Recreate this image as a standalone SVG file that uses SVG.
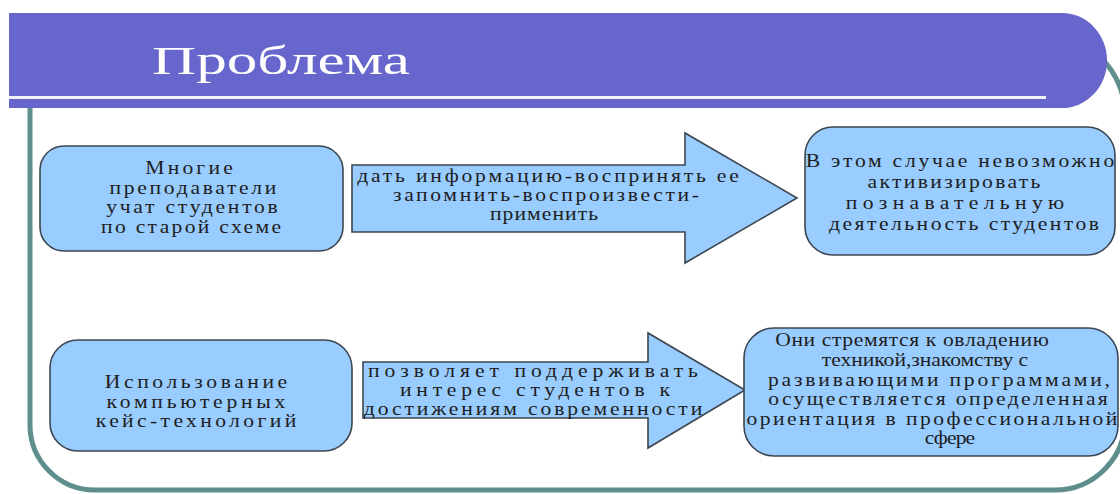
<svg xmlns="http://www.w3.org/2000/svg" width="1120" height="494" viewBox="0 0 1120 494">
  <style>
    .box { fill: #99CCFF; stroke: #3C4650; stroke-width: 1.6; }
    .t { font-family: "Liberation Serif", "DejaVu Serif", serif; font-size: 18px; fill: #1E1E1E; text-anchor: middle; }
    .frame { fill: none; stroke: #5E8F8C; stroke-width: 5; }
  </style>
  <rect x="0" y="0" width="1120" height="494" fill="#FFFFFF"/>
  <g id="frame">
    <path class="frame" d="M1045,35 A80,80 0 0 1 1125,115 V420 A70,70 0 0 1 1055,490 H95 A65,65 0 0 1 30,425 V105"/>
  </g>
  <g id="title">
    <path d="M9,13 H1062 A45,47.5 0 0 1 1062,108 H9 Z" fill="#6666CC"/>
    <rect x="9" y="96" width="1037" height="3" fill="#F2F2FF"/>
    <text x="152" y="74" font-family="Liberation Serif, serif" font-size="41" fill="#FFFFFF" textLength="258" lengthAdjust="spacingAndGlyphs">Проблема</text>
  </g>
  <g id="connectors">
    <g id="arrow1">
      <polygon class="box" points="352,165 685,165 685,133 797,198 685,263 685,232 352,232"/>
      <text class="t" transform="translate(548,182) scale(1.2,1)" textLength="318" lengthAdjust="spacing">дать информацию-воспринять ее</text>
      <text class="t" transform="translate(546,201) scale(1.2,1)" textLength="255" lengthAdjust="spacing">запомнить-воспроизвести-</text>
      <text class="t" transform="translate(544,220) scale(1.2,1)" textLength="90" lengthAdjust="spacing">применить</text>
    </g>
    <g id="arrow2">
      <polygon class="box" points="363,362 648,362 648,333 745,390 648,448 648,418 363,418"/>
      <text class="t" transform="translate(533,377) scale(1.2,1)" textLength="275" lengthAdjust="spacing">позволяет поддерживать</text>
      <text class="t" transform="translate(535,396) scale(1.2,1)" textLength="225" lengthAdjust="spacing">интерес студентов к</text>
      <text class="t" transform="translate(533,415) scale(1.2,1)" textLength="282" lengthAdjust="spacing">достижениям современности</text>
    </g>
  </g>
  <g id="node1">
    <rect class="box" x="40" y="146" width="303" height="105" rx="24"/>
    <text class="t" transform="translate(189,174) scale(1.2,1)" textLength="73" lengthAdjust="spacing">Многие</text>
    <text class="t" transform="translate(193,193.5) scale(1.2,1)" textLength="139" lengthAdjust="spacing">преподаватели</text>
    <text class="t" transform="translate(192,213) scale(1.2,1)" textLength="143" lengthAdjust="spacing">учат студентов</text>
    <text class="t" transform="translate(191,232.5) scale(1.2,1)" textLength="150" lengthAdjust="spacing">по старой схеме</text>
  </g>
  <g id="node2">
    <rect class="box" x="805" y="127" width="310" height="128" rx="28"/>
    <text class="t" transform="translate(960,167) scale(1.2,1)" textLength="257" lengthAdjust="spacing">В этом случае невозможно</text>
    <text class="t" transform="translate(954,188) scale(1.2,1)" textLength="144" lengthAdjust="spacing">активизировать</text>
    <text class="t" transform="translate(955,209) scale(1.2,1)" textLength="182" lengthAdjust="spacing">познавательную</text>
    <text class="t" transform="translate(964,230) scale(1.2,1)" textLength="225" lengthAdjust="spacing">деятельность студентов</text>
  </g>
  <g id="node3">
    <rect class="box" x="50" y="340" width="302" height="111" rx="28"/>
    <text class="t" transform="translate(196,388) scale(1.2,1)" textLength="152" lengthAdjust="spacing">Использование</text>
    <text class="t" transform="translate(196,407.5) scale(1.2,1)" textLength="149" lengthAdjust="spacing">компьютерных</text>
    <text class="t" transform="translate(196,427) scale(1.2,1)" textLength="167" lengthAdjust="spacing">кейс-технологий</text>
  </g>
  <g id="node4">
    <rect class="box" x="744" y="328" width="374" height="128" rx="30"/>
    <text class="t" transform="translate(912,346) scale(1.2,1)" textLength="228" lengthAdjust="spacing">Они стремятся к овладению</text>
    <text class="t" transform="translate(925,366) scale(1.2,1)" textLength="172" lengthAdjust="spacing">техникой,знакомству с</text>
    <text class="t" transform="translate(939,386) scale(1.2,1)" textLength="285" lengthAdjust="spacing">развивающими программами,</text>
    <text class="t" transform="translate(938,405) scale(1.2,1)" textLength="283" lengthAdjust="spacing">осуществляется определенная</text>
    <text class="t" transform="translate(932,425) scale(1.2,1)" textLength="309" lengthAdjust="spacing">ориентация в профессиональной</text>
    <text class="t" transform="translate(950,444) scale(1.2,1)" textLength="42" lengthAdjust="spacing">сфере</text>
  </g>
</svg>
